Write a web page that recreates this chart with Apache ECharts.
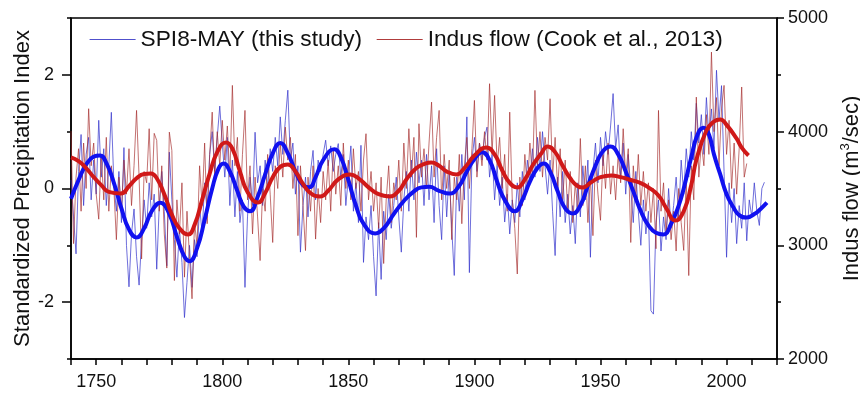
<!DOCTYPE html>
<html>
<head>
<meta charset="utf-8">
<script src="https://cdn.jsdelivr.net/npm/echarts@6/dist/echarts.min.js"></script>
<style>
  html, body { margin: 0; padding: 0; background: #fff; }
  #chart { width: 860px; height: 397px; }
</style>
</head>
<body>
<div id="chart"></div>
<script>
// Annual SPI8-MAY index, 1740-2015
const spiStartYear = 1740;
const spiValues = [
  0.15, -0.5, -1.15, 0.3, 0.95, -0.3, 0.6, 0.9, -0.2, 0.5,
  -0.1, 1.2, 0.2, 0.7, -0.3, 0.4, 1.34, 0.1, -0.4, 0.3,
  -0.6, 0.72, -1.0, -1.73, -0.8, -0.36, -1.2, -1.7, -0.9, -0.2,
  -0.7, 0.1, -0.5, -0.1, -1.42, -0.3, 0.3, -0.4, -1.36, 0.64,
  -0.2, -0.9, -1.56, -0.7, -1.3, -2.27, -1.65, -1.0, -1.74, -0.9,
  -1.2, -0.3, -0.8, 0.1, -0.4, 0.6, 1.0, 0.3, 0.9, 1.45,
  0.8, 0.2, 0.9, -0.3, 0.5, -0.5, 0.3, -0.6, -0.2, -1.74,
  -0.5, 0.2, -0.3, 0.99, 0.1, 0.4, -0.3, 0.5, 0.0, 0.7,
  0.3, 0.9, 0.4, 1.26, 0.6, 1.2, 1.73, 0.5, 0.8, -0.1,
  0.4, -1.12, -0.3, 0.2, -0.5, 0.3, 0.67, -0.2, 0.5, 0.3,
  0.6, 0.85, 0.4, 0.75, 0.3, 0.6, 0.79, 0.2, 0.6, -0.3,
  0.2, 0.75, -0.4, 0.1, -0.6, 0.76, -1.3, -0.5, -0.9, -0.3,
  -1.2, -1.89, -0.6, -1.6, -0.4, -0.9, -0.1, -0.7, -0.3, 0.2,
  -0.5, -1.12, -0.2, 0.3, -0.4, 0.5, -0.2, 0.64, 0.1, 0.5,
  -0.3, 0.6, -0.2, 0.4, -0.6, 0.7, -0.3, -0.9, 0.4, -0.5,
  0.3, -0.7, -1.53, 0.2, -0.4, 0.6, -0.2, 1.26, -1.48, 0.5,
  0.9, 0.3, 0.8, 0.5, 0.9, 1.08, 0.2, 0.6, -0.2, 0.4,
  -0.3, 0.2, -0.59, -0.1, -0.8, -0.2, -0.6, 0.1, -0.5, 0.3,
  -0.2, 0.5, 0.1, 0.7, 0.2, 0.9, 0.3, 1.0, 0.4, -0.1,
  0.5, -0.4, -1.18, 0.2, -0.5, 0.3, -0.6, -0.1, -0.8, -0.3,
  -0.97, 0.1, -0.5, 0.4, -0.2, 0.5, -1.21, 0.3, 0.8, 0.1,
  0.9, 0.4, 1.0, 0.6, 1.1, 1.67, 0.7, 1.12, 0.2, 0.8,
  -0.1, 0.6, 0.0, -0.6, 0.3, -0.4, -1.0, -0.2, -0.8, -0.4,
  -2.15, -2.21, -0.6, -0.2, -1.1, -0.5, -0.9, 0.0, -0.7, -0.3,
  0.2, -0.5, 0.5, -0.1, 0.7, 0.2, 1.0, 0.5, 1.5, 0.8,
  1.3, 0.6, 1.6, 0.9, 1.4, 0.7, 2.08, 1.2, 1.81, 0.3,
  -1.21, 0.1, -0.6, 0.0, -0.97, -0.3, -0.7, 0.1, -0.92, -0.2,
  -0.5, 0.1, -0.4, -0.65, 0.0, 0.11
];

// Reconstructed Indus flow (m3/sec), 1740-2008
const flowStartYear = 1740;
const flowValues = [
  4005, 3015, 3600, 3850, 3300, 3900, 3500, 4202, 3700, 3900,
  3450, 3230, 3800, 3400, 3950, 3300, 3700, 3500, 3050, 3600,
  3300, 3750, 3450, 3850, 3350, 3700, 4187, 3600, 2880, 3650,
  3550, 4026, 3400, 3985, 3923, 3300, 3700, 3100, 2800, 3996,
  3835, 2690, 3400, 3100, 3550, 2720, 3300, 2900, 2530, 3200,
  3000, 3700, 3350, 3900, 3190, 3800, 4172, 3600, 4000, 3700,
  4100, 3750, 4050, 3600, 4407, 3700, 3950, 3300, 3800, 4187,
  3400, 3700, 3100, 3600, 3250, 2866, 3500, 3300, 3800, 3450,
  3025, 3700, 3500, 3900, 3600, 4040, 3750, 3950, 3500, 3800,
  3085, 3700, 3350, 2954, 3600, 3300, 3700, 3055, 3500, 3200,
  3650, 3400, 3750, 3300, 3850, 3450, 3700, 3350, 3900, 3500,
  3750, 3400, 3850, 3500, 3650, 3300, 3750, 3982, 3400, 3650,
  3300, 3550, 3150, 3600, 2840, 3400, 3700, 3200, 3550, 3400,
  3750, 3300, 3900, 3500, 4026, 3600, 3950, 3070, 4070, 3600,
  3850, 3500, 3900, 4260, 3600, 3950, 4187, 3400, 3800, 3500,
  3750, 3050, 3600, 3400, 3800, 3190, 3700, 3950, 3500, 3850,
  4275, 3600, 3900, 3700, 4000, 3750, 4422, 3800, 4319, 3700,
  3950, 3500, 3800, 3300, 4172, 3400, 3150, 2748, 3600, 3350,
  3800, 3500, 3900, 3600, 4363, 3700, 4000, 3600, 3950, 3750,
  4290, 3600, 3950, 3500, 3850, 3400, 3750, 3300, 3650, 3200,
  3550, 3300, 3940, 3350, 3700, 3200, 3600, 3085, 3750, 3450,
  3220, 3800, 3500, 3900, 3450, 3700, 3400, 3800, 3550, 4026,
  3600, 3850, 3025, 3700, 3400, 3800, 3350, 3650, 3300, 3550,
  3200, 3500, 2970, 4187, 3300, 3550, 3100, 3400, 3050, 3300,
  2950, 3500, 3200, 2955, 3600, 2734, 3700, 3400, 4304, 3600,
  3900, 3700, 4150, 3800, 4700, 4000, 4300, 3700, 4200, 4407,
  3800, 4100, 3500, 3900, 3450, 3850, 4393, 3600, 3720
];

// Low-pass filtered SPI8-MAY: [year, index]
const spiSmooth = [
  [1740, -0.18], [1743, 0.15], [1746, 0.42], [1749, 0.56], [1751.5, 0.58], [1754, 0.45],
  [1757, 0.1], [1760, -0.35], [1763, -0.72], [1766, -0.86], [1769, -0.7], [1772, -0.4],
  [1775.5, -0.25], [1779, -0.45], [1782, -0.85], [1785, -1.2], [1787, -1.28], [1790, -1.05],
  [1793, -0.55], [1796, 0.0], [1798.5, 0.35], [1800.5, 0.44], [1803, 0.3], [1806, -0.05],
  [1808.5, -0.32], [1811, -0.40], [1814, -0.15], [1817, 0.25], [1820, 0.62], [1823, 0.80],
  [1826, 0.62], [1829, 0.3], [1832, 0.06], [1834.5, 0.02], [1837, 0.2], [1840, 0.5],
  [1844.4, 0.69], [1847, 0.55], [1850, 0.15], [1853, -0.3], [1856, -0.62], [1860.6, -0.79],
  [1864, -0.7], [1868, -0.45], [1872, -0.22], [1876, -0.05], [1879, 0.02], [1882, 0.03],
  [1886, -0.04], [1890, -0.09], [1894, 0.05], [1897, 0.3], [1900, 0.52], [1903, 0.64],
  [1906, 0.5], [1909, 0.12], [1912, -0.2], [1916, -0.40], [1919, -0.2], [1922, 0.12],
  [1925, 0.36], [1927.5, 0.44], [1930, 0.3], [1933, -0.05], [1936, -0.35], [1939, -0.44],
  [1942, -0.3], [1945, 0.05], [1948, 0.4], [1951, 0.66], [1954, 0.74], [1957, 0.6],
  [1960, 0.3], [1963, -0.05], [1966, -0.4], [1969, -0.65], [1972, -0.78], [1975, -0.81],
  [1978, -0.62], [1981, -0.3], [1983, 0.0], [1986, 0.55], [1988.5, 0.95], [1990.8, 1.07],
  [1993, 0.95], [1995, 0.6], [1997.4, 0.26], [2000, -0.1], [2002.7, -0.33], [2005, -0.47],
  [2008, -0.51], [2011, -0.45], [2013.5, -0.36], [2016, -0.25]
];

// Low-pass filtered Indus flow: [year, m3/sec]
const flowSmooth = [
  [1740, 3773], [1743, 3740], [1746, 3680], [1749, 3600], [1752, 3530], [1755, 3470],
  [1759.8, 3456], [1763, 3520], [1766, 3590], [1769, 3628], [1771.7, 3632], [1774, 3590],
  [1777, 3450], [1780, 3270], [1783, 3150], [1786.4, 3095], [1789, 3180], [1792, 3400],
  [1795, 3630], [1798, 3820], [1801.5, 3905], [1804, 3850], [1807, 3650], [1810, 3470],
  [1814.2, 3377], [1817, 3460], [1820, 3600], [1823, 3690], [1826, 3711], [1829, 3650],
  [1832, 3540], [1835, 3460], [1838.8, 3430], [1842, 3480], [1846, 3580], [1850.7, 3623],
  [1854, 3590], [1858, 3510], [1862, 3450], [1866.2, 3430], [1870, 3480], [1873, 3580],
  [1877, 3680], [1880, 3715], [1882.9, 3729], [1886, 3700], [1889, 3650], [1892.8, 3623],
  [1896, 3680], [1900, 3790], [1904.7, 3861], [1908, 3800], [1911, 3660], [1914, 3550],
  [1917, 3509], [1920, 3580], [1923, 3700], [1926.5, 3808], [1929, 3870], [1932, 3820],
  [1935, 3700], [1938, 3590], [1941, 3520], [1943, 3509], [1946, 3550], [1950, 3600],
  [1954.3, 3614], [1958, 3600], [1962, 3575], [1965.4, 3553], [1969, 3510], [1973, 3438],
  [1976, 3330], [1979.7, 3218], [1983, 3300], [1986, 3530], [1988, 3750], [1992, 4010],
  [1995, 4090], [1997.5, 4108], [2000, 4060], [2004, 3938], [2006, 3860], [2008.7, 3790]
];

// Axis tick values
const xLabelYears = [1750, 1800, 1850, 1900, 1950, 2000];
const spiLabelTicks = [-2, 0, 2];
const spiMinorTicks = [-3, -1, 1, 3];

const FONT = '"Liberation Sans", Arial, sans-serif';
const spiName = 'SPI8-MAY (this study)';
const flowName = 'Indus flow (Cook et al., 2013)';
const spiThinColor = 'rgba(55,55,205,0.8)';
const flowThinColor = 'rgba(165,45,45,0.75)';

const spiData = spiValues.map((v, i) => [spiStartYear + i, v]);
const flowData = flowValues.map((v, i) => [flowStartYear + i, v]);

const chart = echarts.init(document.getElementById('chart'), null, { renderer: 'canvas' });

const blackLine = { color: '#000', width: 1.5 };

chart.setOption({
  animation: false,
  backgroundColor: '#fff',
  textStyle: { fontFamily: FONT },
  grid: {
    left: 71, right: 83, top: 18, bottom: 38,
    outerBoundsMode: 'none', containLabel: false,
    show: true, borderColor: '#000', borderWidth: 1.5, backgroundColor: 'transparent'
  },
  legend: {
    // line-only legend keys: the marker symbol is kept invisible
    data: [
      { name: spiName, itemStyle: { opacity: 0 }, lineStyle: { color: '#5050cc', width: 1.2 } },
      { name: flowName, itemStyle: { opacity: 0 }, lineStyle: { color: '#b03c3c', width: 1.2 } }
    ],
    left: 84, top: 23,
    itemWidth: 46, itemHeight: 14, itemGap: 14,
    itemStyle: { opacity: 0 },
    textStyle: { fontFamily: FONT, fontSize: 22.7, color: '#111' }
  },
  xAxis: {
    type: 'value', min: 1740, max: 2020, interval: 10,
    axisLine: { onZero: false, lineStyle: blackLine },
    axisTick: { show: true, length: 6, lineStyle: blackLine },
    axisLabel: {
      fontFamily: FONT, fontSize: 18, color: '#111', margin: 14,
      formatter: v => (xLabelYears.indexOf(v) >= 0 ? String(v) : '')
    },
    splitLine: { show: false }
  },
  yAxis: [
    {
      type: 'value', position: 'left', min: -3, max: 3,
      name: 'Standardized Precipitation Index',
      nameLocation: 'middle', nameRotate: 90, nameGap: 37, nameMoveOverlap: false,
      nameTextStyle: { fontFamily: FONT, fontSize: 22, color: '#111' },
      axisLine: { show: true, onZero: false, lineStyle: blackLine },
      axisTick: { show: true, length: 9, customValues: spiLabelTicks, lineStyle: blackLine },
      axisLabel: { fontFamily: FONT, fontSize: 18, color: '#111', margin: 17, customValues: spiLabelTicks },
      splitLine: { show: false }
    },
    {
      type: 'value', position: 'right', min: 2000, max: 5000, interval: 1000,
      name: 'Indus flow (m{sup|3}/sec)',
      nameLocation: 'middle', nameRotate: 90, nameGap: 50,
      nameTextStyle: {
        fontFamily: FONT, fontSize: 22, color: '#111',
        rich: { sup: { fontFamily: FONT, fontSize: 13, color: '#111', padding: [0, 0, 12, 0] } }
      },
      axisLine: { show: true, onZero: false, lineStyle: blackLine },
      axisTick: { show: true, length: 7, lineStyle: blackLine },
      minorTick: { show: true, splitNumber: 2, length: 4, lineStyle: blackLine },
      axisLabel: { fontFamily: FONT, fontSize: 18, color: '#111', margin: 11, formatter: v => String(v) },
      splitLine: { show: false }
    },
    {
      // short ticks at the odd index values
      type: 'value', position: 'left', min: -3, max: 3,
      axisLine: { show: false },
      axisTick: { show: true, length: 4, customValues: spiMinorTicks, lineStyle: blackLine },
      axisLabel: { show: false },
      splitLine: { show: false }
    }
  ],
  series: [
    {
      name: spiName, type: 'line', yAxisIndex: 0, data: spiData,
      showSymbol: false, symbol: 'none',
      lineStyle: { color: spiThinColor, width: 0.9 },
      itemStyle: { color: spiThinColor },
      z: 2
    },
    {
      name: flowName, type: 'line', yAxisIndex: 1, data: flowData,
      showSymbol: false, symbol: 'none',
      lineStyle: { color: flowThinColor, width: 0.9 },
      itemStyle: { color: flowThinColor },
      z: 3
    },
    {
      name: 'SPI8-MAY smoothed', type: 'line', yAxisIndex: 0, data: spiSmooth,
      showSymbol: false, symbol: 'none', smooth: 0.5,
      lineStyle: { color: '#1010f0', width: 4 },
      z: 4
    },
    {
      name: 'Indus flow smoothed', type: 'line', yAxisIndex: 1, data: flowSmooth,
      showSymbol: false, symbol: 'none', smooth: 0.5,
      lineStyle: { color: '#d01818', width: 4 },
      z: 5
    }
  ]
});
</script>
</body>
</html>
